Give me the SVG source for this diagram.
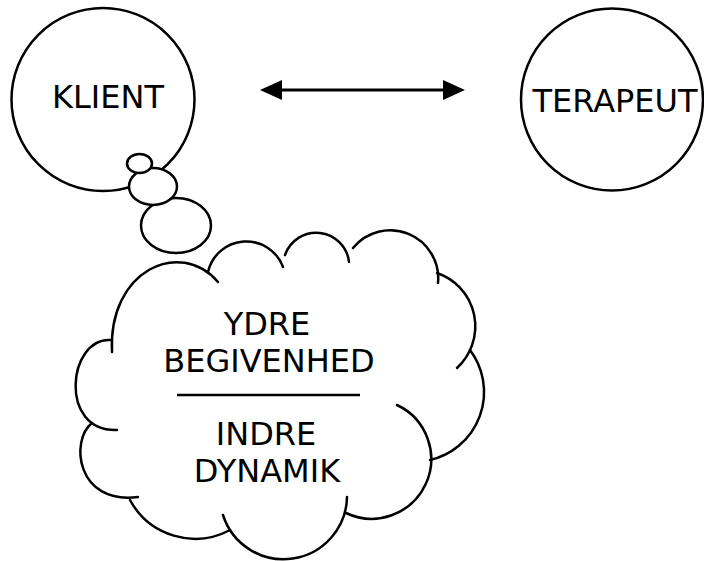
<svg xmlns="http://www.w3.org/2000/svg" width="704" height="561" viewBox="0 0 704 561">
  <style>
    .shape { fill: #ffffff; stroke: #000000; stroke-width: 2.5; }
    .lobe { fill: none; stroke: #000000; stroke-width: 2.5; stroke-linecap: round; }
    .label { font-family: "DejaVu Sans", Verdana, sans-serif; font-size: 32px; fill: #000000; text-anchor: middle; }
    .conn { stroke: #000000; stroke-width: 3; fill: none; }
  </style>
  <defs>
    <marker id="head" markerUnits="userSpaceOnUse" markerWidth="22" markerHeight="20" viewBox="0 0 22 20" refX="17" refY="10" orient="auto-start-reverse">
      <path d="M0,0 L22,10 L0,20 Z" fill="#000000"/>
    </marker>
  </defs>
  <rect x="0" y="0" width="704" height="561" fill="#ffffff"/>

  <g id="klient">
    <circle class="shape" cx="103" cy="99.5" r="91.5"/>
    <text class="label" x="108" y="108">KLIENT</text>
  </g>

  <g id="thought-bubbles">
    <ellipse class="shape" cx="176" cy="225.5" rx="35" ry="27.5"/>
    <ellipse class="shape" cx="153" cy="186.5" rx="24" ry="18.5"/>
    <ellipse class="shape" cx="139.5" cy="163.5" rx="12.5" ry="9.5"/>
  </g>

  <g id="terapeut">
    <circle class="shape" cx="612" cy="99.5" r="91"/>
    <text class="label" x="615" y="112">TERAPEUT</text>
  </g>

  <g id="cloud">
    <path class="lobe" d="M112,352 C108,270 180,238 218,282"/>
    <path class="lobe" d="M208,272 A39.2,39.2 0 0 1 283,267"/>
    <path class="lobe" d="M285,255 A33,33 0 0 1 349,262"/>
    <path class="lobe" d="M353,248 A48,48 0 0 1 438,283"/>
    <path class="lobe" d="M437,273 A56.4,56.4 0 0 1 457,368"/>
    <path class="lobe" d="M470,350 A69.8,69.8 0 0 1 430,460"/>
    <path class="lobe" d="M397,405 A58.5,58.5 0 1 1 346,513"/>
    <path class="lobe" d="M347,497 A63.5,63.5 0 0 1 223,515"/>
    <path class="lobe" d="M130,500 A74,74 0 0 0 230,530"/>
    <path class="lobe" d="M92,423 C70,440 76,505 138,497"/>
    <path class="lobe" d="M110,340 C68,338 58,432 117,430"/>
    <text class="label" x="267" y="335">YDRE</text>
    <text class="label" x="269" y="372">BEGIVENHED</text>
    <line x1="177" y1="395" x2="360" y2="395" stroke="#000000" stroke-width="2.5"/>
    <text class="label" x="266" y="445">INDRE</text>
    <text class="label" x="267" y="482">DYNAMIK</text>
  </g>

  <g id="connectors">
    <line class="conn" x1="265" y1="90" x2="460" y2="90" marker-start="url(#head)" marker-end="url(#head)"/>
  </g>
</svg>
